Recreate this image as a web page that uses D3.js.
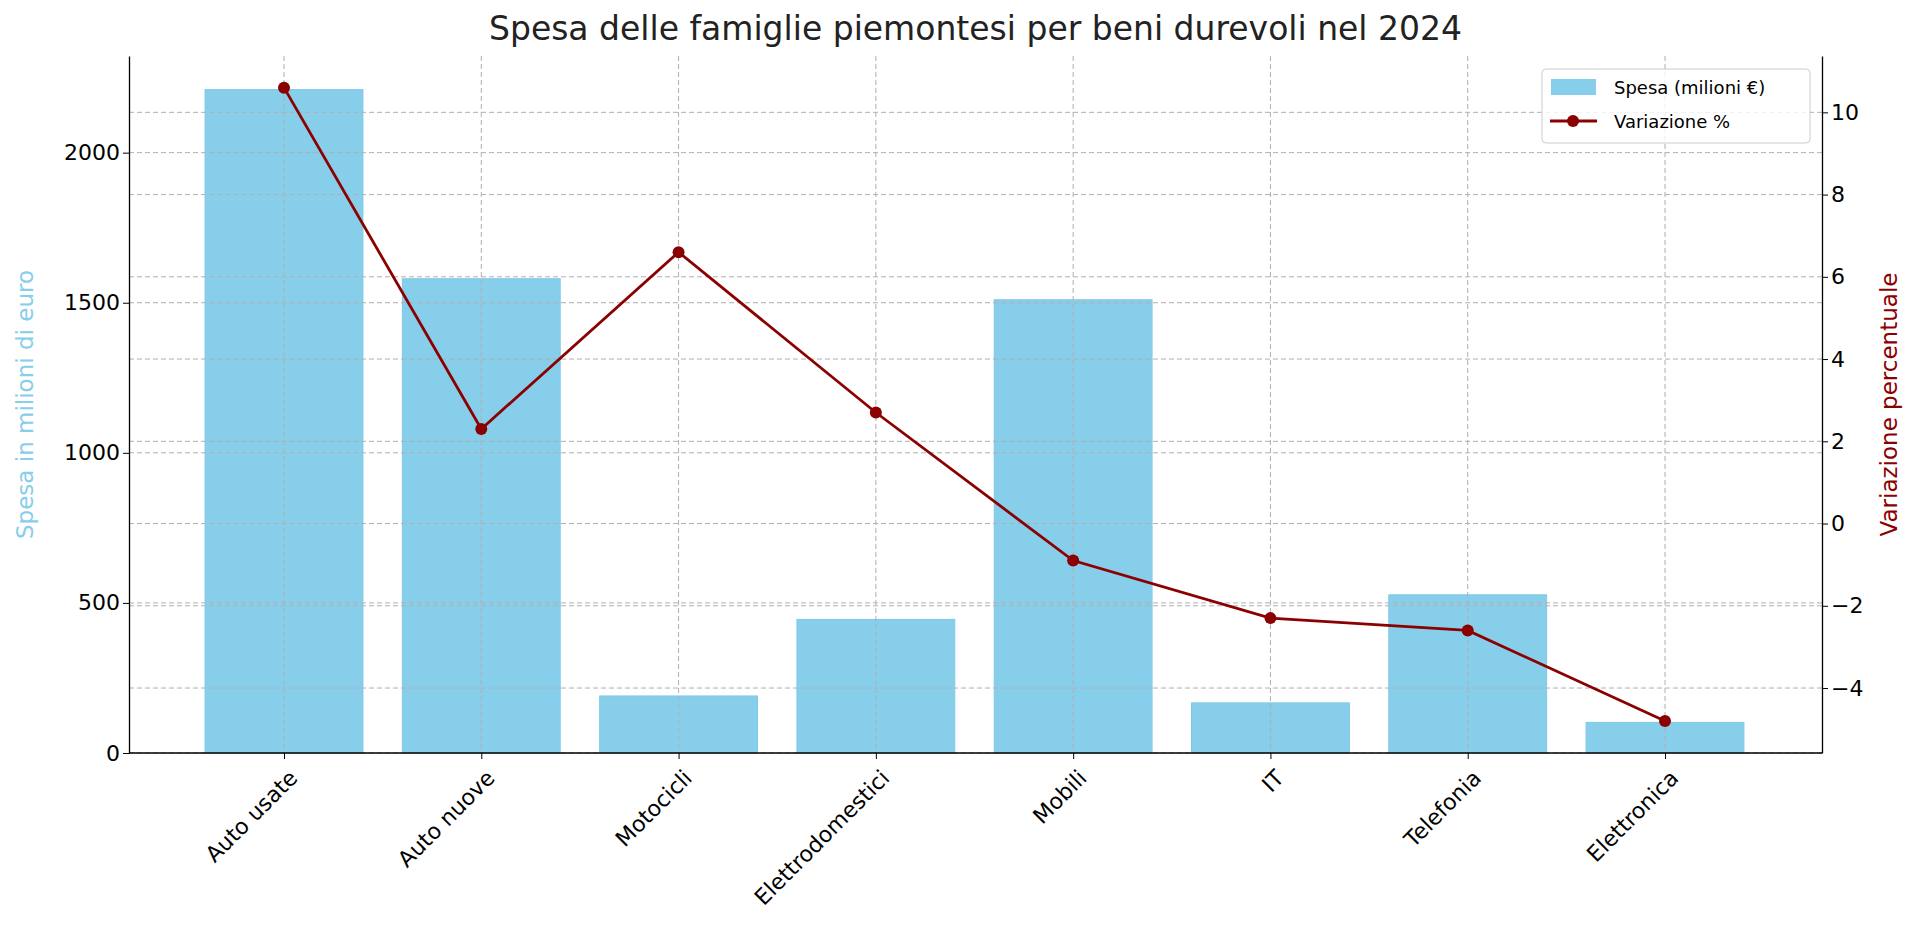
<!DOCTYPE html>
<html><head><meta charset="utf-8">
<script src="https://cdn.jsdelivr.net/npm/d3@7/dist/d3.min.js"></script>
<style>body{margin:0;background:#fff}svg{font-family:"DejaVu Sans",sans-serif}</style>
</head><body><svg id="c" width="1920" height="952"></svg>
<script>
const categories=["Auto usate","Auto nuove","Motocicli","Elettrodomestici","Mobili","IT","Telefonia","Elettronica"];
const spesa=[2210,1580,190,445,1510,167,527,102];
const variazione=[10.6,2.3,6.6,2.7,-0.9,-2.3,-2.6,-4.8];
const leftTicks=[0,500,1000,1500,2000];
const rightTicks=[-4,-2,0,2,4,6,8,10];

const svg=d3.select("#c");
const L=129,R=1822,T=56,B=753;
const x=d3.scalePoint().domain(categories).range([284,1665]);
const bw=x.step()*0.8;
const y=d3.scaleLinear().domain([0,2322]).range([B,T]);
const y2=d3.scaleLinear().domain([-5.58,11.37]).range([B,T]);
const grid=svg.append("g").attr("stroke","#b0b0b0").attr("stroke-dasharray","5,3").attr("stroke-width",1);
leftTicks.forEach(t=>grid.append("line").attr("x1",L).attr("x2",R).attr("y1",y(t)).attr("y2",y(t)));
rightTicks.forEach(t=>grid.append("line").attr("x1",L).attr("x2",R).attr("y1",y2(t)).attr("y2",y2(t)));
svg.append("g").selectAll("rect").data(categories).join("rect")
 .attr("x",d=>x(d)-bw/2).attr("width",bw).attr("y",(d,i)=>y(spesa[i])).attr("height",(d,i)=>B-y(spesa[i]))
 .attr("fill","#87CEEB").attr("stroke","#7ec8e8");
categories.forEach(c=>grid.append("line").attr("x1",x(c)).attr("x2",x(c)).attr("y1",T).attr("y2",B));
grid.raise();
const line=d3.line().x((d,i)=>x(categories[i])).y(d=>y2(d));
svg.append("path").datum(variazione).attr("d",line).attr("fill","none").attr("stroke","#8B0000").attr("stroke-width",2.8);
svg.append("g").selectAll("circle").data(variazione).join("circle").attr("cx",(d,i)=>x(categories[i])).attr("cy",d=>y2(d)).attr("r",6).attr("fill","#8B0000");

const FF="DejaVu Sans, sans-serif", fs=22;
const ax=svg.append("g").attr("transform",`translate(0,${B})`).call(d3.axisBottom(x).tickSize(6).tickSizeOuter(0));
ax.select(".domain").remove();
ax.selectAll("text").attr("text-anchor","end").attr("dy","0").attr("transform","translate(8,20) rotate(-45)");
const al=svg.append("g").attr("transform",`translate(${L},0)`).call(d3.axisLeft(y).tickValues(leftTicks).tickFormat(d3.format("d")).tickSize(6).tickSizeOuter(0));
const ar=svg.append("g").attr("transform",`translate(${R},0)`).call(d3.axisRight(y2).tickValues(rightTicks).tickFormat(d=>d<0?"\u2212"+(-d):d).tickSize(6).tickSizeOuter(0));
[ax,al,ar].forEach(g=>{g.attr("font-family",FF).attr("font-size",fs);g.selectAll("text").attr("fill","#000");});
svg.selectAll(".domain").attr("stroke","#000").attr("stroke-width",1.3);
svg.append("line").attr("x1",L).attr("x2",R).attr("y1",B).attr("y2",B).attr("stroke","#000").attr("stroke-width",1.5);

svg.append("text").attr("x",(L+R)/2).attr("y",40).attr("text-anchor","middle").attr("font-size","33px").attr("fill","#222").text("Spesa delle famiglie piemontesi per beni durevoli nel 2024");
svg.append("text").attr("transform",`translate(33,${(T+B)/2}) rotate(-90)`).attr("text-anchor","middle").attr("font-size","23px").attr("fill","#87CEEB").text("Spesa in milioni di euro");
svg.append("text").attr("transform",`translate(1897,${(T+B)/2}) rotate(-90)`).attr("text-anchor","middle").attr("font-size","23px").attr("fill","#8B0000").text("Variazione percentuale");

const lg=svg.append("g").attr("transform","translate(1542,69)");
lg.append("rect").attr("width",268).attr("height",74).attr("rx",4).attr("fill","#fff").attr("fill-opacity",0.8).attr("stroke","#ccc");
lg.append("rect").attr("x",9).attr("y",10).attr("width",45).attr("height",16).attr("fill","#87CEEB");
lg.append("text").attr("x",72).attr("y",25).attr("font-size","18px").text("Spesa (milioni €)");
lg.append("line").attr("x1",8).attr("x2",55).attr("y1",52).attr("y2",52).attr("stroke","#8B0000").attr("stroke-width",2.8);
lg.append("circle").attr("cx",31).attr("cy",52).attr("r",6).attr("fill","#8B0000");
lg.append("text").attr("x",72).attr("y",59).attr("font-size","18px").text("Variazione %");
</script></body></html>
